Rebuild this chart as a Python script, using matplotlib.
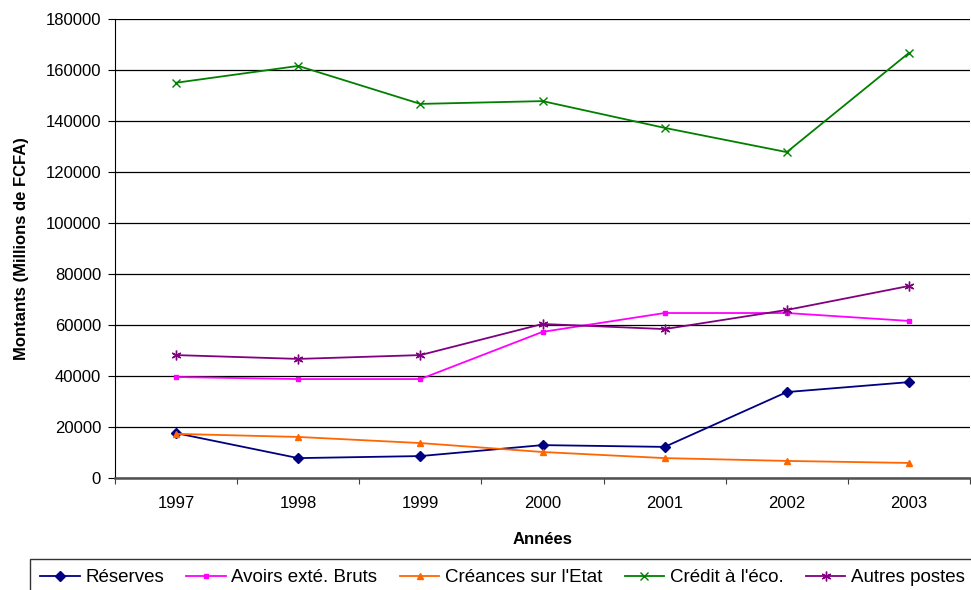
import numpy as np
import matplotlib.pyplot as plt

plt.rcParams['font.family'] = ['Liberation Sans', 'DejaVu Sans']

annees = ['1997', '1998', '1999', '2000', '2001', '2002', '2003']
reserves = [17600, 7800, 8600, 12900, 12200, 33700, 37600]
avoirs = [39600, 38800, 38800, 57300, 64700, 64700, 61600]
creances = [17300, 16100, 13700, 10200, 7800, 6700, 5900]
credit = [155000, 161600, 146700, 147800, 137300, 127800, 166700]
autres = [48200, 46700, 48200, 60400, 58400, 65900, 75300]

x = np.arange(len(annees))

fig = plt.figure(figsize=(9.71, 5.90), dpi=100)
ax = fig.add_axes([115 / 971, 112 / 590, 855 / 971, 459 / 590])

ax.plot(x, reserves, color='#000080', marker='D', markersize=5, lw=1.3, label='Réserves')
ax.plot(x, avoirs, color='#FF00FF', marker='s', markersize=2.5, lw=1.3, label='Avoirs exté. Bruts')
ax.plot(x, creances, color='#FF6600', marker='^', markersize=4, lw=1.3, label="Créances sur l'Etat")
ax.plot(x, credit, color='#008000', marker='x', markersize=6, lw=1.3, label="Crédit à l'éco.")
ax.plot(x, autres, color='#800080', marker=(6, 2, 0), markersize=7, lw=1.3, label='Autres postes')

ax.set_ylim(0, 180000)
ax.set_yticks(range(0, 180001, 20000))
ax.set_xlim(-0.5, len(annees) - 0.5)
ax.set_xticks(np.arange(-0.5, len(annees)), minor=False)
ax.set_xticklabels([])
ax.set_xticks(x, minor=True)
ax.set_xticklabels(annees, minor=True)
ax.tick_params(axis='x', which='minor', length=0, pad=13, labelsize=12)
ax.tick_params(axis='x', which='major', length=4.5, direction='out', color='#404040')
ax.tick_params(axis='y', length=5, labelsize=12, pad=5)

ax.grid(axis='y', color='#000000', lw=0.9)
ax.set_axisbelow(True)
for s in ['top', 'right']:
    ax.spines[s].set_visible(False)
ax.spines['left'].set_color('black')
ax.spines['bottom'].set_color('#505050')
ax.spines['bottom'].set_linewidth(1.8)

ax.set_xlabel('Années', fontsize=12, fontweight='bold', labelpad=15)
ax.set_ylabel('Montants (Millions de FCFA)', fontsize=12, fontweight='bold', labelpad=12)

# legend box starts at y=559 and runs past the bottom edge
leg = fig.legend(loc='upper left', bbox_to_anchor=(30 / 971, 0, 945 / 971, 31 / 590),
                 mode='expand', ncol=5, fontsize=13.5, frameon=True, fancybox=False,
                 handlelength=2.1, handletextpad=0.3, columnspacing=0.6, borderpad=0.55,
                 borderaxespad=0)
leg.get_frame().set_edgecolor('black')
leg.get_frame().set_linewidth(1)

fig.savefig('out.png', dpi=100)
